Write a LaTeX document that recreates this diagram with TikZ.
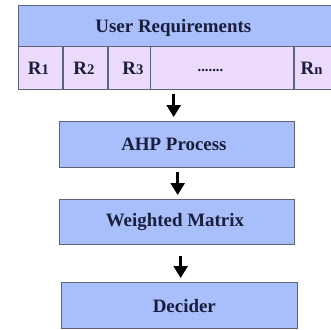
\documentclass[tikz,border=0pt]{standalone}
\usepackage{fontspec}
\setmainfont{Liberation Serif}
\usetikzlibrary{arrows.meta}
\definecolor{boxblue}{HTML}{A9BFFB}
\definecolor{cellpink}{HTML}{EBDAFB}
\definecolor{edgegrey}{HTML}{5F6378}
\definecolor{inkblue}{HTML}{1A1E3C}
\tikzset{
  x=0.75pt,y=-0.75pt,
  blockbox/.style={draw=edgegrey,line width=1pt,fill=boxblue,inner sep=0pt,text=inkblue,font=\bfseries\fontsize{14.2pt}{16pt}\selectfont},
  cellbox/.style={draw=edgegrey,line width=1pt,fill=cellpink,inner sep=0pt,text=inkblue,font=\bfseries\fontsize{14.2pt}{16pt}\selectfont},
  flowarrow/.style={-{Triangle[length=9pt,width=10.5pt]},line width=1.9pt,black,shorten <=3pt,shorten >=3pt},
  heavyrule/.style={draw=edgegrey,line width=1.5pt},
}
\newcommand{\boxat}[7]{\node[#1,minimum width=#5*0.75pt,minimum height=#6*0.75pt,anchor=north west] (#2) at (#3,#4) {#7};}
\newcommand{\subd}[1]{{\fontsize{11pt}{12pt}\selectfont #1}}
\begin{document}
\begin{tikzpicture}
\useasboundingbox (0,0) rectangle (331,329);
\fill[white] (0,0) rectangle (331,329);
\boxat{blockbox}{top}{17.5}{5}{313}{41}{\rule{0pt}{13pt}\hspace{-2pt}User Requirements}
\boxat{cellbox}{rd}{149.5}{46}{144.5}{43}{\hspace{-18pt}{\fontsize{11pt}{12pt}\selectfont\rule{0pt}{5.5pt}.......}}
\boxat{cellbox}{rc}{107}{46}{42.5}{43}{\hspace{6pt}R\subd{3}}
\boxat{cellbox}{ra}{17.5}{46}{44.5}{43}{\hspace{-3pt}R\subd{1}}
\boxat{cellbox}{rb}{62}{46}{45}{43}{\hspace{-2pt}R\subd{2}}
\boxat{cellbox}{rn}{294}{46}{36.5}{43}{\hspace{-2pt}R\subd{n}}
\draw[heavyrule] (ra.north east) -- (ra.south east);
\draw[heavyrule] (rb.north east) -- (rb.south east);
\draw[heavyrule] (rn.north west) -- (rn.south west);
\boxat{blockbox}{ahp}{58.5}{121}{235.5}{46}{\hspace{-4.5pt}AHP Process}
\boxat{blockbox}{wm}{58.5}{199}{235.5}{45}{\hspace{-3pt}Weighted Matrix}
\boxat{blockbox}{dec}{61}{282}{236}{46}{\hspace{7pt}Decider}
\draw[flowarrow] ([xshift=-48.75*0.75pt]rd.south) -- ([xshift=-3.25*0.75pt]ahp.north);
\draw[flowarrow] ([xshift=0.75*0.75pt]ahp.south) -- ([xshift=0.75*0.75pt]wm.north);
\draw[flowarrow,shorten <=8pt] ([xshift=3.75*0.75pt]wm.south) -- ([xshift=1*0.75pt]dec.north);
\end{tikzpicture}
\end{document}
